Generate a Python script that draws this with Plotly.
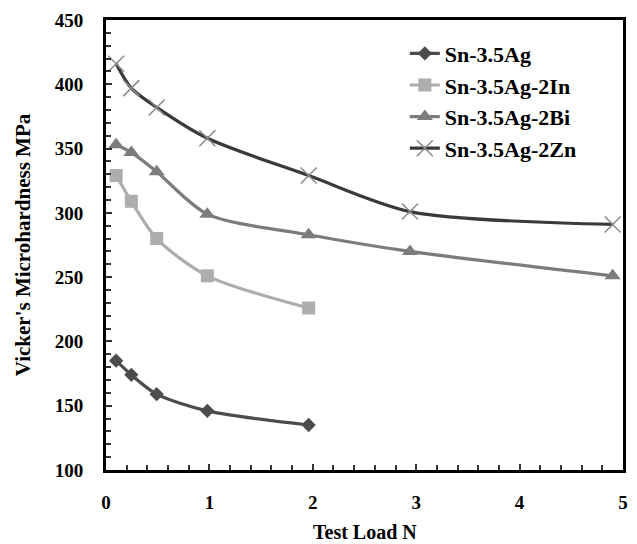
import plotly.graph_objects as go

loads = [0.098, 0.245, 0.49, 0.98, 1.96, 2.94, 4.9]

names = ["Sn-3.5Ag", "Sn-3.5Ag-2In", "Sn-3.5Ag-2Bi", "Sn-3.5Ag-2Zn"]
ag = [185, 174, 159, 146, 135]
ag_in = [329, 309, 280, 251, 226]
ag_bi = [353, 347, 332, 299, 283, 270, 251]
ag_zn = [416, 397, 382, 358, 329, 301, 291]

FONT = "Liberation Serif"

styles = [
    dict(color="#4c4c4c", symbol="diamond", size=11, mcolor="#4c4c4c", mline=0),
    dict(color="#adadad", symbol="square", size=13, mcolor="#adadad", mline=0),
    dict(color="#7c7c7c", symbol="triangle-up", size=14, mcolor="#7c7c7c", mline=0),
    dict(color="#3a3a3a", symbol="x-thin-open", size=16, mcolor="#8a8a8a", mline=1.5),
]
series = [ag, ag_in, ag_bi, ag_zn]

fig = go.Figure()
for name, vals, st in zip(names, series, styles):
    fig.add_trace(go.Scatter(
        x=loads[:len(vals)], y=vals, name=name,
        mode="lines+markers",
        line=dict(color=st["color"], width=3.2, shape="spline", smoothing=0.8),
        marker=dict(symbol=st["symbol"], size=st["size"], color=st["mcolor"],
                    line=dict(color=st["mcolor"], width=st["mline"])),
    ))

axis_common = dict(
    showline=True, linecolor="black", linewidth=3, mirror=True,
    showgrid=False, zeroline=False, automargin=False,
    ticks="inside", ticklen=6, tickwidth=1.5, tickcolor="#333",
    tickfont=dict(family=FONT, size=19, color="black", weight="bold"),
)

fig.update_layout(
    width=637, height=544,
    margin=dict(l=106, r=14, t=20, b=74),
    paper_bgcolor="white", plot_bgcolor="white",
    showlegend=True,
    legend=dict(x=0.578, y=0.972, xanchor="left", yanchor="top",
                font=dict(family=FONT, size=22, color="black", weight="bold"),
                bgcolor="rgba(0,0,0,0)", tracegroupgap=0),
    xaxis=dict(range=[0, 5], tick0=0, dtick=1,
               minor=dict(dtick=0.2, ticks="inside", ticklen=5, tickcolor="#333", tickwidth=1.5),
               ticklabelstandoff=13,
               **axis_common),
    yaxis=dict(range=[100, 450], tick0=100, dtick=50,
               minor=dict(dtick=10, ticks="inside", ticklen=5, tickcolor="#333", tickwidth=1.5),
               ticklabelstandoff=16,
               title=dict(text="Vicker's Microhardness MPa", standoff=19,
                          font=dict(family=FONT, size=21, color="black", weight="bold")),
               **axis_common),
    annotations=[dict(text="Test Load N", xref="paper", yref="paper",
                      x=0.5, y=-0.138, xanchor="center", yanchor="middle",
                      showarrow=False,
                      font=dict(family=FONT, size=20, color="black", weight="bold"))],
)

fig.write_html("out.html", config={"displayModeBar": False},
               post_script="document.body.style.margin='0';")
